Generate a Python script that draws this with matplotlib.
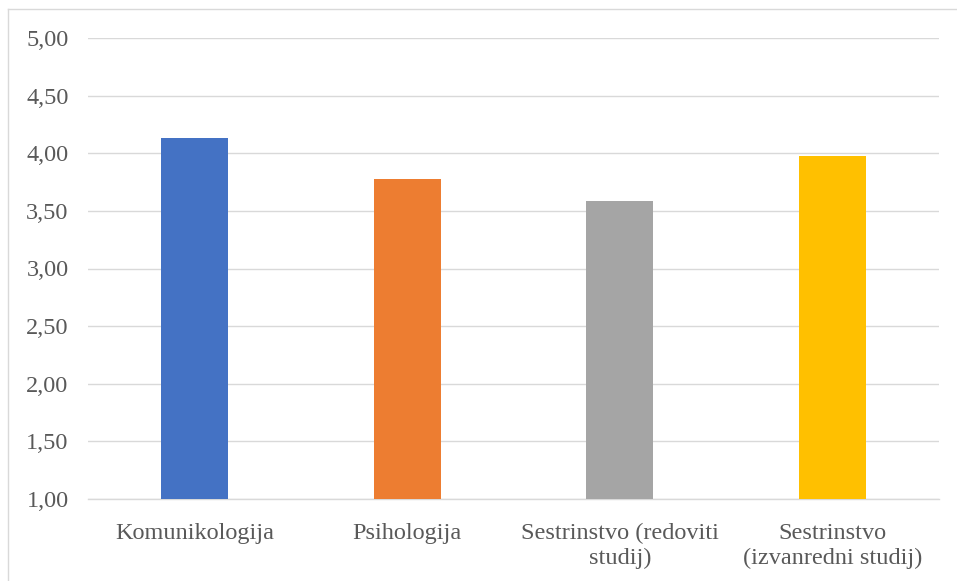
import numpy as np
import matplotlib.pyplot as plt
from matplotlib.lines import Line2D

plt.rcParams['font.family'] = ['Liberation Serif', 'DejaVu Serif']

categories = ["Komunikologija", "Psihologija", "Sestrinstvo (redoviti\nstudij)",
              "Sestrinstvo\n(izvanredni studij)"]
values = [4.13, 3.78, 3.59, 3.98]
colors = ["#4472C4", "#ED7D31", "#A5A5A5", "#FFC000"]
yticks = [1.0, 1.5, 2.0, 2.5, 3.0, 3.5, 4.0, 4.5, 5.0]

W, H = 957, 581
fig = plt.figure(figsize=(W / 100, H / 100), dpi=100)
ax = fig.add_axes([88 / W, 1 - 499 / H, (939 - 88) / W, (499 - 38) / H])

x = np.arange(len(categories))
ax.bar(x, [v - 1.0 for v in values], bottom=1.0, width=0.315, color=colors, zorder=3)

ax.set_xlim(-0.5, len(categories) - 0.5)
ax.set_ylim(1.0, 5.0)
ax.set_yticks(yticks)
ax.set_yticklabels([f"{t:.2f}".replace(".", ",") for t in yticks])
ax.set_xticks(x)
ax.set_xticklabels(categories, linespacing=1.25)

ax.grid(axis='y', color='#D9D9D9', linewidth=1.0, zorder=0)
for s in ['top', 'right', 'left']:
    ax.spines[s].set_visible(False)
ax.spines['bottom'].set_color('#D9D9D9')
ax.spines['bottom'].set_linewidth(1.0)
ax.tick_params(axis='both', length=0, labelsize=17.5, colors='#595959')
ax.tick_params(axis='y', pad=14)
ax.tick_params(axis='x', pad=17)

# chart frame (top and left edges visible)
fig.add_artist(Line2D([8 / W, 1.0], [1 - 9 / H, 1 - 9 / H], transform=fig.transFigure,
                      color='#D9D9D9', linewidth=1.0))
fig.add_artist(Line2D([8 / W, 8 / W], [0.0, 1 - 9 / H], transform=fig.transFigure,
                      color='#D9D9D9', linewidth=1.0))

fig.savefig("out.png", dpi=100, facecolor='white')
